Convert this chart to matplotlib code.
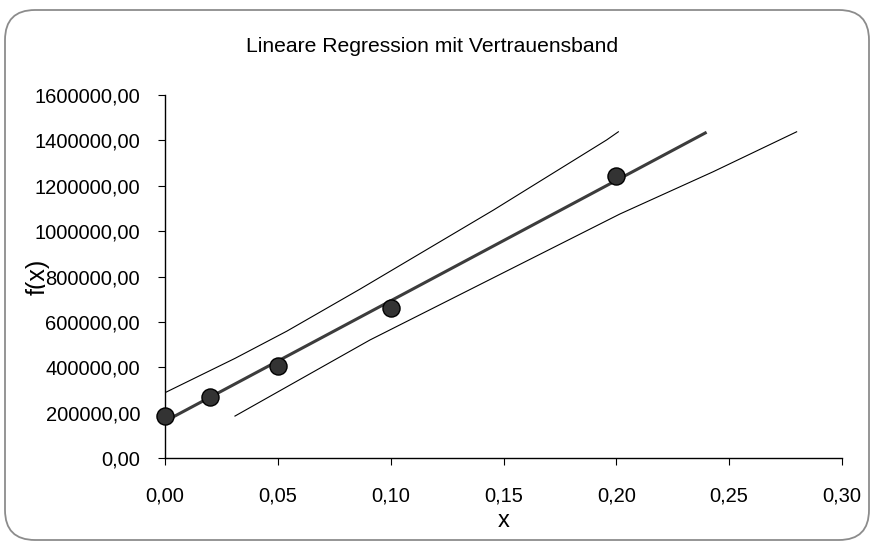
import matplotlib
matplotlib.use("Agg")
import matplotlib.pyplot as plt
from matplotlib.ticker import FuncFormatter, MultipleLocator
from matplotlib.patches import FancyBboxPatch
from matplotlib.transforms import IdentityTransform

plt.rcParams['font.family'] = ['Liberation Sans', 'DejaVu Sans']

# ---- data ----
x_data = [0.00, 0.02, 0.05, 0.10, 0.20]
y_data = [186000, 271000, 407000, 660000, 1244000]

reg_x = [0.00, 0.24]
reg_y = [163000, 1436000]

upper_x = [0.000, 0.031, 0.054, 0.0864, 0.1455, 0.1957, 0.2009]
upper_y = [289000, 440000, 560000, 745000, 1093000, 1402000, 1438000]

lower_x = [0.031, 0.0908, 0.1455, 0.2016, 0.2429, 0.2799]
lower_y = [186000, 521000, 795000, 1076000, 1262000, 1438000]

title = "Lineare Regression mit Vertrauensband"
x_label = "x"
y_label = "f(x)"

W, H = 872, 542
fig = plt.figure(figsize=(W / 100, H / 100), dpi=100)
fig.patch.set_facecolor('white')

# rounded outer frame (pixel coordinates)
frame = FancyBboxPatch((5, 2), 864, 530,
                       boxstyle="round,pad=0,rounding_size=30",
                       transform=IdentityTransform(),
                       facecolor='none', edgecolor='#8c8c8c', linewidth=1.3,
                       zorder=-5)
fig.patches.append(frame)

ax = fig.add_axes([165 / W, 1 - 458.3 / H, (842 - 165) / W, (458.3 - 95) / H])
ax.set_xlim(0, 0.30)
ax.set_ylim(0, 1600000)

ax.plot(upper_x, upper_y, color='black', linewidth=0.8, zorder=2)
ax.plot(lower_x, lower_y, color='black', linewidth=0.8, zorder=2)
ax.plot(reg_x, reg_y, color='#3c3c3c', linewidth=2.2, solid_capstyle='butt', zorder=3)
ax.plot(x_data, y_data, linestyle='none', marker='o', markersize=12.3,
        markerfacecolor='#333333', markeredgecolor='black', markeredgewidth=1.0,
        clip_on=False, zorder=4)

ax.xaxis.set_major_locator(MultipleLocator(0.05))
ax.yaxis.set_major_locator(MultipleLocator(200000))
fmt = FuncFormatter(lambda v, p: f"{v:.2f}".replace('.', ','))
ax.xaxis.set_major_formatter(fmt)
ax.yaxis.set_major_formatter(fmt)

for s in ['top', 'right']:
    ax.spines[s].set_visible(False)
for s in ['left', 'bottom']:
    ax.spines[s].set_color('black')
    ax.spines[s].set_linewidth(1.0)

ax.tick_params(axis='y', direction='out', length=5, width=0.8, pad=13,
               labelsize=14.5, colors='black')
ax.tick_params(axis='x', direction='out', length=5, width=0.8, pad=15,
               labelsize=14.5, colors='black')
for lbl in ax.get_yticklabels():
    lbl.set_bbox(dict(facecolor='white', edgecolor='none', pad=0.5))

fig.text(432 / W, 1 - 47 / H, title, ha='center', va='center', fontsize=15.2)
fig.text(503.5 / W, 1 - 521 / H, x_label, ha='center', va='center', fontsize=17)
fig.text(38 / W, 1 - 277 / H, y_label, ha='center', va='center', rotation=90,
         fontsize=18, zorder=-1)

fig.savefig("out.png", dpi=100, facecolor='white')
